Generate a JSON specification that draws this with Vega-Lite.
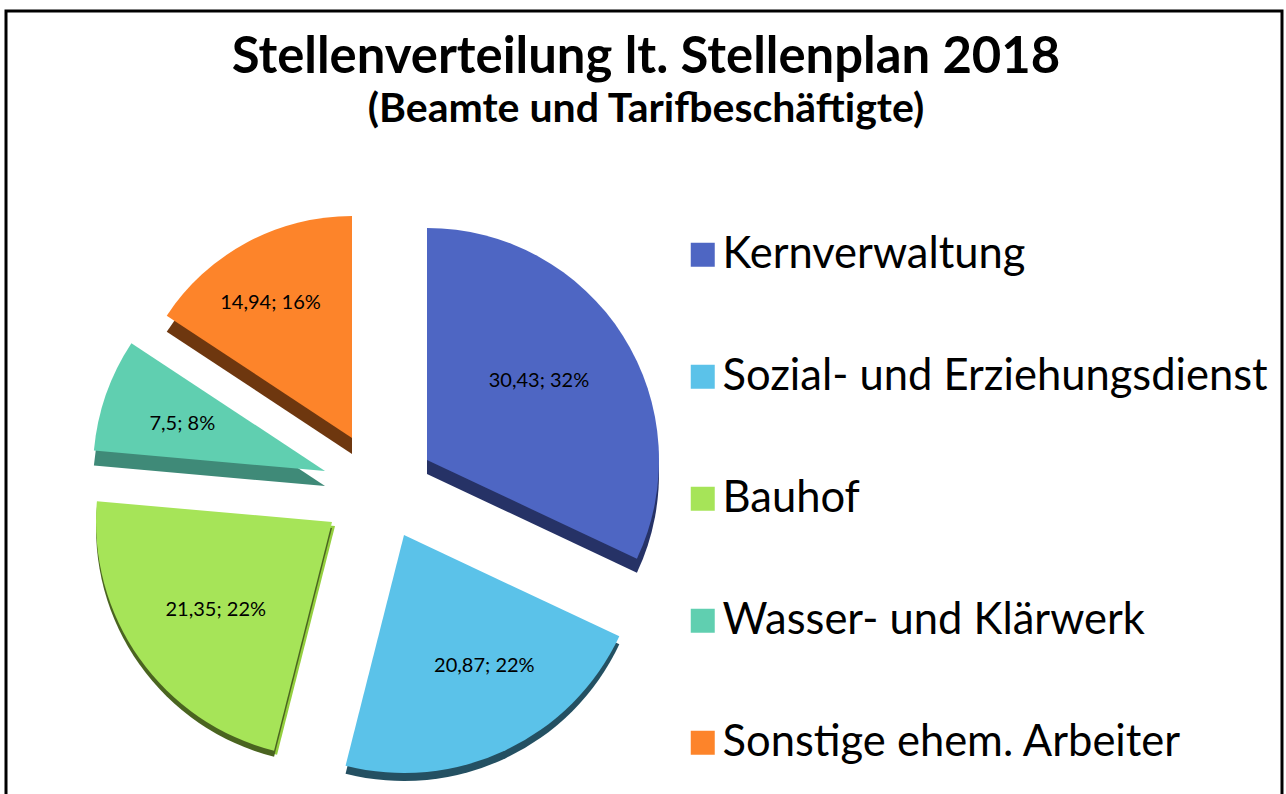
{
"$schema":"https://vega.github.io/schema/vega-lite/v6.json",
"width":1276,"height":790,
"autosize":{"type":"none"},
"padding":{"left":6,"top":11,"right":4,"bottom":0},
"background":"white",
"view":{"stroke":"#000000","strokeWidth":3,"fill":"white"},
"config":{"font":"Lato"},
"title":{"text":"Stellenverteilung lt. Stellenplan 2018","subtitle":"(Beamte und Tarifbeschäftigte)","anchor":"middle","frame":"group","offset":-120,"dx":2,"font":"Lato","fontSize":50.8,"fontWeight":"bold","color":"#000","subtitleFont":"Lato","subtitleFontSize":41,"subtitleFontWeight":"bold","subtitleColor":"#000","subtitlePadding":6},
"data":{"values":[
{"rank":1,"name":"Kernverwaltung","value":30.43,"label":"30,43; 32%"},
{"rank":2,"name":"Sozial- und Erziehungsdienst","value":20.87,"label":"20,87; 22%"},
{"rank":3,"name":"Bauhof","value":21.35,"label":"21,35; 22%"},
{"rank":4,"name":"Wasser- und Klärwerk","value":7.5,"label":"7,5; 8%"},
{"rank":5,"name":"Sonstige ehem. Arbeiter","value":14.94,"label":"14,94; 16%"}
]},
"transform":[
{"stack":"value","groupby":[],"sort":[{"field":"rank","order":"ascending"}],"as":["v0","v1"]},
{"calculate":"(datum.v0+datum.v1)/2","as":"mid"}
],
"layer":[
{"transform":[{"filter":"datum.rank==1"}],"mark":{"type":"arc","radius":232,"xOffset":-217,"yOffset":68,"fill":"#263266"},"encoding":{"theta":{"field":"v0","type":"quantitative","scale":{"domain":[0,95.09]}},"theta2":{"field":"v1"}}},
{"transform":[{"filter":"datum.rank==2"}],"mark":{"type":"arc","radius":238,"xOffset":-240,"yOffset":137,"fill":"#245062"},"encoding":{"theta":{"field":"v0","type":"quantitative","scale":{"domain":[0,95.09]}},"theta2":{"field":"v1"}}},
{"transform":[{"filter":"datum.rank==3"}],"mark":{"type":"arc","radius":236,"xOffset":-309,"yOffset":120,"fill":"#94cf3f"},"encoding":{"theta":{"field":"v0","type":"quantitative","scale":{"domain":[0,95.09]}},"theta2":{"field":"v1"}}},
{"transform":[{"filter":"datum.rank==3"}],"mark":{"type":"arc","radius":236,"xOffset":-312,"yOffset":122,"fill":"#4a6420"},"encoding":{"theta":{"field":"v0","type":"quantitative","scale":{"domain":[0,95.09]}},"theta2":{"field":"v1"}}},
{"transform":[{"filter":"datum.rank==4"}],"mark":{"type":"arc","radius":232,"xOffset":-319,"yOffset":80,"fill":"#3f8a78"},"encoding":{"theta":{"field":"v0","type":"quantitative","scale":{"domain":[0,95.09]}},"theta2":{"field":"v1"}}},
{"transform":[{"filter":"datum.rank==5"}],"mark":{"type":"arc","radius":222,"xOffset":-292,"yOffset":48,"fill":"#6e370f"},"encoding":{"theta":{"field":"v0","type":"quantitative","scale":{"domain":[0,95.09]}},"theta2":{"field":"v1"}}},
{"transform":[{"filter":"datum.rank==1"}],"mark":{"type":"arc","radius":232,"xOffset":-217,"yOffset":54},"encoding":{"theta":{"field":"v0","type":"quantitative","scale":{"domain":[0,95.09]}},"theta2":{"field":"v1"},"color":{"field":"name","type":"nominal"}}},
{"transform":[{"filter":"datum.rank==2"}],"mark":{"type":"arc","radius":238,"xOffset":-240,"yOffset":129},"encoding":{"theta":{"field":"v0","type":"quantitative","scale":{"domain":[0,95.09]}},"theta2":{"field":"v1"},"color":{"field":"name","type":"nominal"}}},
{"transform":[{"filter":"datum.rank==3"}],"mark":{"type":"arc","radius":236,"xOffset":-312,"yOffset":116},"encoding":{"theta":{"field":"v0","type":"quantitative","scale":{"domain":[0,95.09]}},"theta2":{"field":"v1"},"color":{"field":"name","type":"nominal"}}},
{"transform":[{"filter":"datum.rank==4"}],"mark":{"type":"arc","radius":232,"xOffset":-319,"yOffset":65},"encoding":{"theta":{"field":"v0","type":"quantitative","scale":{"domain":[0,95.09]}},"theta2":{"field":"v1"},"color":{"field":"name","type":"nominal"}}},
{"transform":[{"filter":"datum.rank==5"}],"mark":{"type":"arc","radius":222,"xOffset":-292,"yOffset":32},"encoding":{"theta":{"field":"v0","type":"quantitative","scale":{"domain":[0,95.09]}},"theta2":{"field":"v1"},"color":{"field":"name","type":"nominal","scale":{"domain":["Kernverwaltung","Sozial- und Erziehungsdienst","Bauhof","Wasser- und Klärwerk","Sonstige ehem. Arbeiter"],"range":["#4e66c3","#5bc2e9","#a6e458","#60cfb0","#fd842a"]},"legend":{"title":null,"orient":"none","legendX":675,"legendY":222,"symbolType":"square","symbolSize":576,"symbolStrokeWidth":0,"labelFont":"Lato","labelFontSize":43.5,"labelColor":"#000","labelOffset":-2,"labelLimit":700,"rowPadding":77}}}},
{"transform":[{"filter":"datum.rank==1"}],"mark":{"type":"text","radius":135,"xOffset":-217,"yOffset":54,"dx":-2,"dy":-7,"font":"Lato","fontSize":20,"color":"#000"},"encoding":{"theta":{"field":"mid","type":"quantitative","scale":{"domain":[0,95.09]}},"text":{"field":"label"}}},
{"transform":[{"filter":"datum.rank==2"}],"mark":{"type":"text","radius":153,"xOffset":-240,"yOffset":129,"dx":15,"dy":-7,"font":"Lato","fontSize":20,"color":"#000"},"encoding":{"theta":{"field":"mid","type":"quantitative","scale":{"domain":[0,95.09]}},"text":{"field":"label"}}},
{"transform":[{"filter":"datum.rank==3"}],"mark":{"type":"text","radius":145,"xOffset":-312,"yOffset":116,"dx":2,"dy":4,"font":"Lato","fontSize":20,"color":"#000"},"encoding":{"theta":{"field":"mid","type":"quantitative","scale":{"domain":[0,95.09]}},"text":{"field":"label"}}},
{"transform":[{"filter":"datum.rank==4"}],"mark":{"type":"text","radius":149,"xOffset":-319,"yOffset":65,"dx":-2,"dy":2,"font":"Lato","fontSize":20,"color":"#000"},"encoding":{"theta":{"field":"mid","type":"quantitative","scale":{"domain":[0,95.09]}},"text":{"field":"label"}}},
{"transform":[{"filter":"datum.rank==5"}],"mark":{"type":"text","radius":153,"xOffset":-292,"yOffset":32,"dx":-9,"dy":0,"font":"Lato","fontSize":20,"color":"#000"},"encoding":{"theta":{"field":"mid","type":"quantitative","scale":{"domain":[0,95.09]}},"text":{"field":"label"}}}
]
}
